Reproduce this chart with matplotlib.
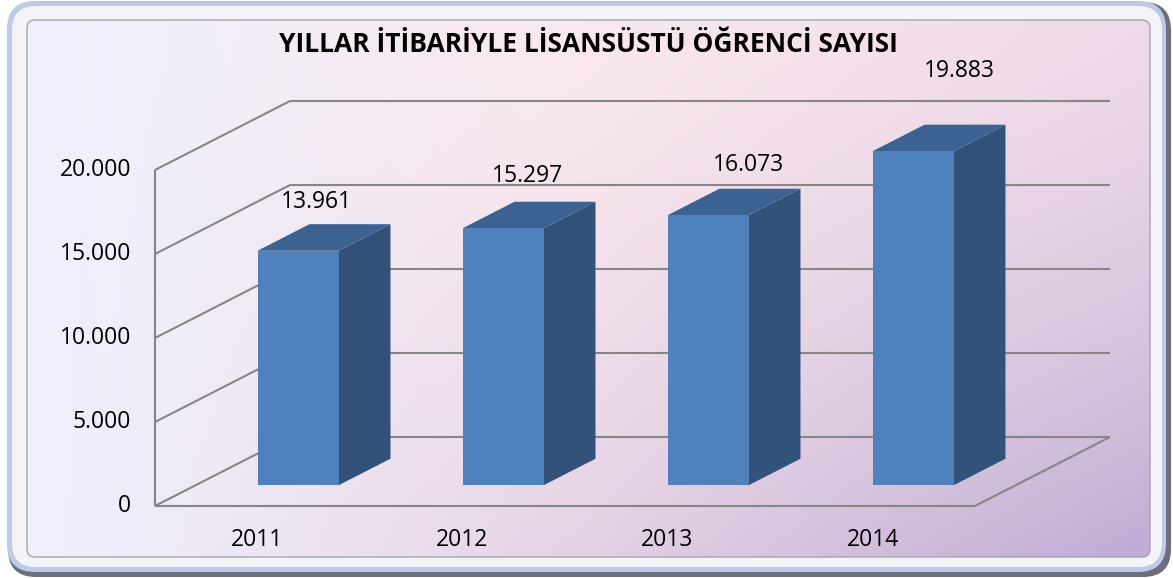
import numpy as np
import matplotlib.pyplot as plt
from matplotlib.patches import Polygon, FancyBboxPatch
from matplotlib.colors import LinearSegmentedColormap

# Data
years = ['2011', '2012', '2013', '2014']
students = [13961, 15297, 16073, 19883]
value_labels = ['13.961', '15.297', '16.073', '19.883']
yticks = [0, 5000, 10000, 15000, 20000]
ytick_labels = ['0', '5.000', '10.000', '15.000', '20.000']
title = 'YILLAR İTİBARİYLE LİSANSÜSTÜ ÖĞRENCİ SAYISI'

# label nudges in pixels (the 2014 label sits higher in the original)
label_nudge = [(-8, 2), (-2, -2), (15, 0), (20, -30)]

plt.rcParams['font.family'] = ['Open Sans', 'DejaVu Sans']

W, H = 1173, 578
fig = plt.figure(figsize=(W / 100, H / 100), dpi=100)

# frame + background, pixel coords
deco = fig.add_axes([0, 0, 1, 1])
deco.set_xlim(0, W)
deco.set_ylim(H, 0)
deco.axis('off')


def rbox(x0, y0, x1, y1, r, **kw):
    p = FancyBboxPatch((x0, y0), x1 - x0, y1 - y0,
                       boxstyle='round,pad=0,rounding_size=%d' % r, **kw)
    deco.add_patch(p)
    return p


rbox(8, 2, 1171, 577, 28, fc='#6e6e7c', ec='none')
rbox(7, 1, 1166, 572, 28, fc='#bccbe8', ec='none')
rbox(12, 6, 1162, 567, 24, fc='#f3f3f8', ec='none')
inner = rbox(27, 20, 1150, 557, 8, fc='none', ec='#a4a4ae', lw=1, zorder=3)

# background gradient
xs = np.linspace(0, 1, 300)
ys = np.linspace(0, 1, 150)
X, Y = np.meshgrid(xs, ys)
left = np.array([238, 240, 252]) / 255
mid = np.array([250, 232, 238]) / 255
right = np.array([238, 218, 232]) / 255
purple = np.array([192, 172, 212]) / 255
base = LinearSegmentedColormap.from_list('bg', [left, mid, right])(X)[..., :3]
w = (X * Y)[..., None] ** 1.4
img = base * (1 - w) + purple * w
im = deco.imshow(img, extent=(27, 1150, 557, 20), aspect='auto', zorder=1)
im.set_clip_path(inner)
deco.set_xlim(0, W)
deco.set_ylim(H, 0)

# chart axes: x in category units, y in value units
ax = fig.add_axes([0, 0, 1, 1])
ax.patch.set_alpha(0)
ax.axis('off')
PX_CAT = 205.0
PX_VAL = 0.0168
ax.set_xlim((0 - 155) / PX_CAT - 0.5, (W - 155) / PX_CAT - 0.5)
ax.set_ylim((506 - H) / PX_VAL, 506 / PX_VAL)

DX = 135 / PX_CAT        # depth shift in categories
DV = 69 / PX_VAL         # depth shift in values
n = len(years)


def proj(c, v, t):
    return c + t * DX, v + t * DV


grid_kw = dict(color='#868686', lw=1.5, zorder=2, solid_capstyle='butt')

# left wall
ax.plot([-0.5, -0.5], [0, yticks[-1]], **grid_kw)
for v in yticks:
    bx, bv = proj(-0.5, v, 1)
    ex, ev = proj(n - 0.5, v, 1)
    ax.plot([-0.5, bx], [v, bv], **grid_kw)
    ax.plot([bx, ex], [bv, ev], **grid_kw)
# floor
fx, fv = proj(n - 0.5, 0, 1)
ax.plot([-0.5, n - 0.5], [0, 0], **grid_kw)
ax.plot([n - 0.5, fx], [0, fv], **grid_kw)

# bars
BW = 81 / PX_CAT
T0, T1 = 0.30, 0.685
for i, v in enumerate(students):
    x0, x1 = i - BW / 2, i + BW / 2
    front = [proj(x0, 0, T0), proj(x1, 0, T0), proj(x1, v, T0), proj(x0, v, T0)]
    side = [proj(x1, 0, T0), proj(x1, 0, T1), proj(x1, v, T1), proj(x1, v, T0)]
    top = [proj(x0, v, T0), proj(x1, v, T0), proj(x1, v, T1), proj(x0, v, T1)]
    ax.add_patch(Polygon(side, closed=True, fc='#325279', ec='none', zorder=4))
    ax.add_patch(Polygon(top, closed=True, fc='#3c6292', ec='none', zorder=4))
    ax.add_patch(Polygon(front, closed=True, fc='#4f81bd', ec='none', zorder=5))

    lx, lv = proj(i, v, (T0 + T1) / 2)
    ax.annotate(value_labels[i], (lx, lv), xytext=(label_nudge[i][0], 37 - label_nudge[i][1]),
                textcoords='offset pixels', ha='center', va='center',
                fontsize=16.5, color='black', zorder=6)

    ax.annotate(years[i], (i, 0), xytext=(0, -34), textcoords='offset pixels',
                ha='center', va='center', fontsize=16.5, color='black')

for v, s in zip(yticks, ytick_labels):
    ax.annotate(s, (-0.5, v), xytext=(-24, 0), textcoords='offset pixels',
                ha='right', va='center', fontsize=16.5, color='black')

fig.text(588 / W, 1 - 45 / H, title, ha='center', va='center',
         fontsize=19, fontweight='bold', color='black')

fig.savefig('out.png', dpi=100)
